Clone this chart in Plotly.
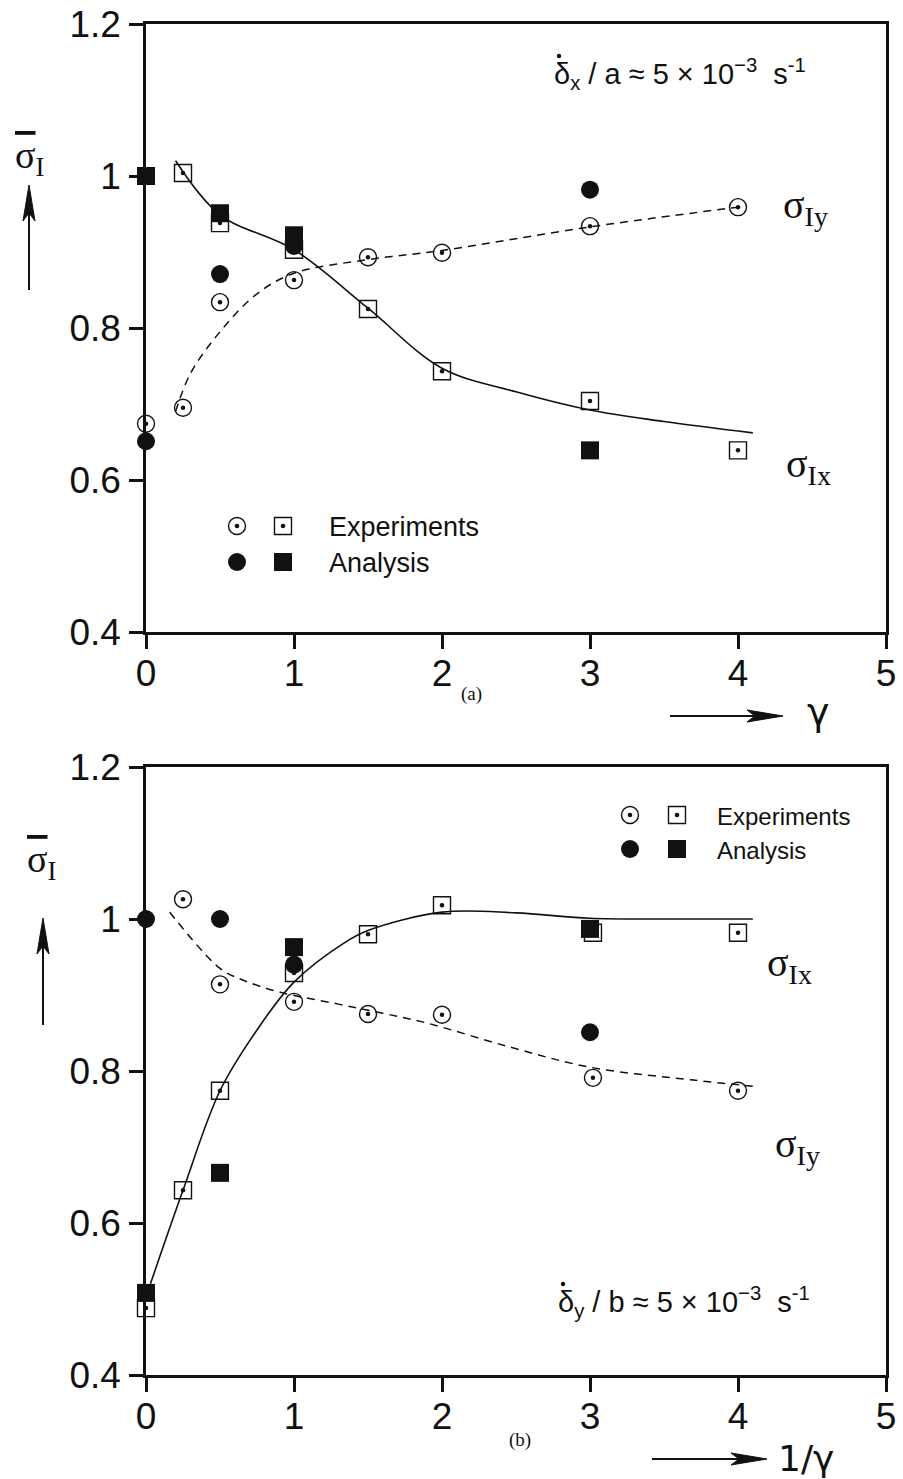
import plotly.graph_objects as go

W, H = 903, 1479

# ---------- panel (a): normalised stress vs gamma ----------
a_exp_y_x = [0, 0.25, 0.5, 1, 1.5, 2, 3, 4]
a_exp_y = [0.674, 0.695, 0.834, 0.863, 0.893, 0.899, 0.934, 0.959]
a_exp_x_x = [0.25, 0.5, 1, 1.5, 2, 3, 4]
a_exp_x = [1.004, 0.938, 0.903, 0.825, 0.743, 0.704, 0.639]
a_ana_y_x = [0, 0.5, 1, 3]
a_ana_y = [0.651, 0.871, 0.908, 0.982]
a_ana_x_x = [0, 0.5, 1, 3]
a_ana_x = [1.0, 0.951, 0.922, 0.639]
a_fit_x_x = [0.2, 0.5, 1, 1.5, 2, 2.5, 3, 3.5, 4.1]
a_fit_x = [1.02, 0.949, 0.903, 0.826, 0.747, 0.716, 0.692, 0.677, 0.662]
a_fit_y_x = [0.2, 0.3, 0.5, 0.75, 1, 1.5, 2, 3, 4]
a_fit_y = [0.69, 0.74, 0.795, 0.845, 0.872, 0.89, 0.902, 0.933, 0.959]

# ---------- panel (b): normalised stress vs 1/gamma ----------
b_exp_y_x = [0.25, 0.5, 1, 1.5, 2, 3.02, 4]
b_exp_y = [1.026, 0.914, 0.891, 0.875, 0.874, 0.791, 0.774]
b_exp_x_x = [0, 0.25, 0.5, 1, 1.5, 2, 3.02, 4]
b_exp_x = [0.488, 0.643, 0.774, 0.929, 0.98, 1.018, 0.982, 0.982]
b_ana_y_x = [0, 0.5, 1, 3]
b_ana_y = [1.0, 1.0, 0.94, 0.851]
b_ana_x_x = [0, 0.5, 1, 3]
b_ana_x = [0.508, 0.666, 0.963, 0.987]
b_fit_x_x = [0.03, 0.25, 0.5, 0.75, 1, 1.35, 1.5, 2, 2.5, 3, 3.5, 4.1]
b_fit_x = [0.52, 0.643, 0.774, 0.854, 0.917, 0.970, 0.985, 1.009, 1.008, 1.001, 1.0, 1.0]
b_fit_y_x = [0.16, 0.5, 0.65, 0.9, 1.3, 1.6, 1.9, 2.45, 3.0, 3.7, 4.1]
b_fit_y = [1.009, 0.935, 0.92, 0.904, 0.888, 0.876, 0.863, 0.832, 0.805, 0.788, 0.78]

x_ticks = [0, 1, 2, 3, 4, 5]
y_ticks = [0.4, 0.6, 0.8, 1.0, 1.2]
y_tick_text = ["0.4", "0.6", "0.8", "1", "1.2"]

SANS = "Liberation Sans"
SERIF = "Liberation Serif"
GREEK = "DejaVu Sans"
BLACK = "#111111"


def px(x):
    return x / W


def py(y):
    return 1 - y / H


fig = go.Figure()


def add_panel(xa, ya, fx_x, fx, fy_x, fy, ey_x, ey, ex_x, ex, ay_x, ay, ax_x, ax):
    common = dict(xaxis=xa, yaxis=ya, showlegend=False, cliponaxis=False, hoverinfo="skip")
    fig.add_trace(go.Scatter(x=fx_x, y=fx, mode="lines",
                             line=dict(color=BLACK, width=1.6, shape="spline", smoothing=1.0), **common))
    fig.add_trace(go.Scatter(x=fy_x, y=fy, mode="lines",
                             line=dict(color=BLACK, width=1.5, dash="8px,6px", shape="spline", smoothing=1.0),
                             **common))
    for xs, ys, sym in [(ey_x, ey, "circle-open"), (ex_x, ex, "square-open")]:
        fig.add_trace(go.Scatter(x=xs, y=ys, mode="markers",
                                 marker=dict(symbol=sym, size=17, color=BLACK, line=dict(width=1.4, color=BLACK)),
                                 **common))
        fig.add_trace(go.Scatter(x=xs, y=ys, mode="markers",
                                 marker=dict(symbol="circle", size=4.5, color=BLACK), **common))
    fig.add_trace(go.Scatter(x=ay_x, y=ay, mode="markers",
                             marker=dict(symbol="circle", size=18, color=BLACK), **common))
    fig.add_trace(go.Scatter(x=ax_x, y=ax, mode="markers",
                             marker=dict(symbol="square", size=18, color=BLACK), **common))


add_panel("x", "y", a_fit_x_x, a_fit_x, a_fit_y_x, a_fit_y, a_exp_y_x, a_exp_y,
          a_exp_x_x, a_exp_x, a_ana_y_x, a_ana_y, a_ana_x_x, a_ana_x)
add_panel("x2", "y2", b_fit_x_x, b_fit_x, b_fit_y_x, b_fit_y, b_exp_y_x, b_exp_y,
          b_exp_x_x, b_exp_x, b_ana_y_x, b_ana_y, b_ana_x_x, b_ana_x)

axis_style = dict(showline=True, mirror=True, linecolor=BLACK, linewidth=2.5,
                  ticks="outside", ticklen=14, tickwidth=2.5, tickcolor=BLACK,
                  showgrid=False, zeroline=False, fixedrange=True, automargin=False,
                  tickfont=dict(family=SANS, size=37, color=BLACK))

x_dom = [px(146), px(886)]
fig.update_layout(
    width=W, height=H,
    margin=dict(l=0, r=0, t=0, b=0, pad=0),
    paper_bgcolor="white", plot_bgcolor="white",
    xaxis=dict(domain=x_dom, range=[0, 5], tickvals=x_ticks, anchor="y",
               ticklabelstandoff=-7, **axis_style),
    yaxis=dict(domain=[py(632), py(24)], range=[0.4, 1.2], tickvals=y_ticks, ticktext=y_tick_text,
               anchor="x", ticklabelstandoff=1, **axis_style),
    xaxis2=dict(domain=x_dom, range=[0, 5], tickvals=x_ticks, anchor="y2",
                ticklabelstandoff=-7, **axis_style),
    yaxis2=dict(domain=[py(1375), py(767)], range=[0.4, 1.2], tickvals=y_ticks, ticktext=y_tick_text,
                anchor="x2", ticklabelstandoff=1, **axis_style),
)

annotations = []
shapes = []


def text(x, y, s, size, family=SANS, xanchor="center", yanchor="middle"):
    annotations.append(dict(x=px(x), y=py(y), xref="paper", yref="paper", text=s, showarrow=False,
                            xanchor=xanchor, yanchor=yanchor,
                            font=dict(family=family, size=size, color=BLACK)))


def dot(x, y, d):
    shapes.append(dict(type="circle", xref="paper", yref="paper",
                       x0=px(x - d), x1=px(x + d), y0=py(y + d), y1=py(y - d),
                       fillcolor=BLACK, line=dict(color=BLACK, width=0)))


def arrow(x0, y0, x1, y1, head_len=36, head_w=6):
    # shaft plus a slender filled head pointing from (x0, y0) to (x1, y1), pixel coordinates
    dx, dy = x1 - x0, y1 - y0
    n = (dx * dx + dy * dy) ** 0.5
    ux, uy = dx / n, dy / n
    bx, by = x1 - ux * head_len, y1 - uy * head_len
    nx, ny = -uy, ux
    shapes.append(dict(type="line", xref="paper", yref="paper",
                       x0=px(x0), y0=py(y0), x1=px(bx + ux * 8), y1=py(by + uy * 8),
                       line=dict(color=BLACK, width=2)))
    pts = [(x1, y1), (bx + nx * head_w, by + ny * head_w), (bx + ux * 8, by + uy * 8),
           (bx - nx * head_w, by - ny * head_w)]
    path = "M " + " L ".join(f"{px(a):.5f},{py(b):.5f}" for a, b in pts) + " Z"
    shapes.append(dict(type="path", xref="paper", yref="paper", path=path,
                       fillcolor=BLACK, line=dict(color=BLACK, width=1)))


def legend_marks(cx_c, cx_s, cy_exp, cy_ana):
    r = 8.5
    shapes.append(dict(type="circle", xref="paper", yref="paper",
                       x0=px(cx_c - r), x1=px(cx_c + r), y0=py(cy_exp + r), y1=py(cy_exp - r),
                       line=dict(color=BLACK, width=1.4)))
    shapes.append(dict(type="rect", xref="paper", yref="paper",
                       x0=px(cx_s - r), x1=px(cx_s + r), y0=py(cy_exp + r), y1=py(cy_exp - r),
                       line=dict(color=BLACK, width=1.4)))
    for cx in (cx_c, cx_s):
        dot(cx, cy_exp, 2.3)
    r2 = 9
    dot(cx_c, cy_ana, r2)
    shapes.append(dict(type="rect", xref="paper", yref="paper",
                       x0=px(cx_s - r2), x1=px(cx_s + r2), y0=py(cy_ana + r2), y1=py(cy_ana - r2),
                       fillcolor=BLACK, line=dict(color=BLACK, width=0)))


ovl = '<span style="text-decoration:overline">σ</span>'

# panel (a) texts
text(13, 158, ovl + "<sub>I</sub>", 38, SERIF, xanchor="left")
arrow(29, 290, 29, 185)
text(552, 74, "δ<sub>x</sub> / a ≈ 5 × 10<sup>−3</sup>  s<sup>-1</sup>", 29, xanchor="left")
dot(559, 56, 2.2)
text(781, 207, "σ<sub>Iy</sub>", 40, SERIF, xanchor="left")
text(784, 466, "σ<sub>Ix</sub>", 40, SERIF, xanchor="left")
legend_marks(237, 283, 526, 562)
text(327, 527, "Experiments", 27, xanchor="left")
text(327, 563, "Analysis", 27, xanchor="left")
text(472, 694, "(a)", 19, SERIF)
arrow(670, 716, 783, 716)
text(818, 712, "γ", 38, GREEK)

# panel (b) texts
text(25, 862, ovl + "<sub>I</sub>", 38, SERIF, xanchor="left")
arrow(43, 1025, 43, 918)
text(556, 1302, "δ<sub>y</sub> / b ≈ 5 × 10<sup>−3</sup>  s<sup>-1</sup>", 29, xanchor="left")
dot(563, 1284, 2.2)
text(765, 965, "σ<sub>Ix</sub>", 40, SERIF, xanchor="left")
text(773, 1146, "σ<sub>Iy</sub>", 40, SERIF, xanchor="left")
legend_marks(630, 677, 815, 849)
text(715, 816, "Experiments", 24, xanchor="left")
text(715, 850, "Analysis", 24, xanchor="left")
text(520, 1440, "(b)", 19, SERIF)
arrow(652, 1459, 767, 1459)
text(806, 1458, "1/γ", 36, GREEK)

fig.update_layout(annotations=annotations, shapes=shapes)

fig.write_html("out.html")
